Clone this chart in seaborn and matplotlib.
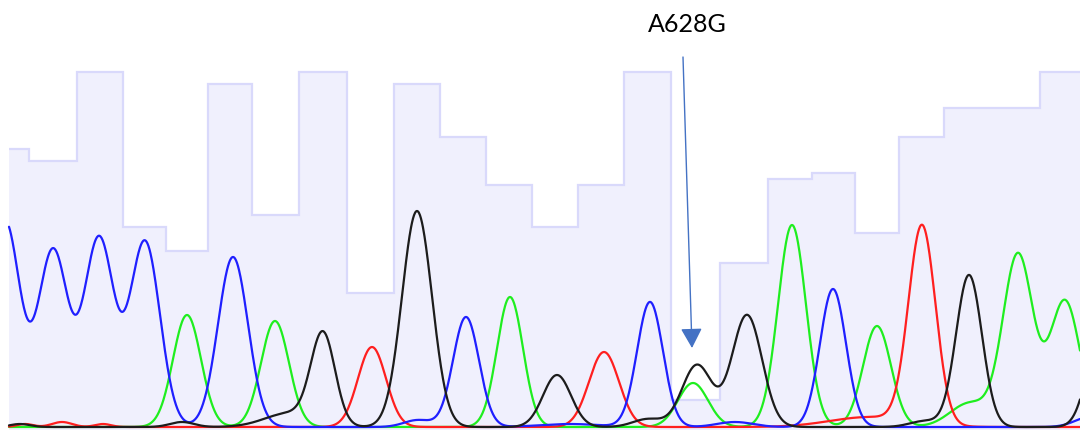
import numpy as np
import pandas as pd
import matplotlib
matplotlib.use("Agg")
import matplotlib.pyplot as plt
import seaborn as sns

# Base calls in the displayed window: scan position of each call and its quality value (QV)
call_pos = [5, 53, 100, 145, 187, 228, 276, 322, 372, 416, 464, 508,
            556, 600, 647, 695, 745, 791, 833, 877, 921, 967, 1017, 1063]
call_qv = [47, 45, 60, 34, 30, 58, 36, 60, 23, 58, 49, 41,
           34, 41, 60, 5, 28, 42, 43, 33, 49, 54, 54, 60]

# Dye peaks per channel: centre (scan), height (signal units), spread (scans)
A_pos = [187, 275, 510, 693, 792, 877, 970, 1018, 1065]
A_height = [112, 106, 130, 44, 202, 101, 24, 172, 126]
A_width = [14, 14, 13, 15, 14, 14, 20, 15, 15]

C_pos = [5, 53, 99, 145, 233, 418, 466, 570, 650, 735, 833, 1090]
C_height = [205, 176, 188, 185, 170, 7, 110, 3, 125, 5, 138, 10]
C_width = [15, 15, 15, 15, 15, 14, 13, 30, 13, 18, 13, 15]

G_pos = [20, 182, 290, 323, 417, 557, 648, 697, 747, 925, 969, 1100]
G_height = [3, 5, 14, 90, 216, 52, 8, 62, 112, 6, 152, 90]
G_width = [10, 12, 25, 12, 15, 14, 15, 15, 15, 15, 13, 13]

T_pos = [25, 62, 103, 372, 604, 870, 922]
T_height = [3, 5, 3, 80, 75, 10, 198]
T_width = [8, 10, 8, 14, 15, 40, 13.5]

signal_floor = 3
scan_start, scan_end = 9, 1080

mutation_label = "A628G"
mutation_scan = 692

channels = {
    "A": (A_pos, A_height, A_width),
    "T": (T_pos, T_height, T_width),
    "C": (C_pos, C_height, C_width),
    "G": (G_pos, G_height, G_width),
}
dye_colors = {"A": "#1fee1f", "T": "#ff1f1f", "C": "#1f1fff", "G": "#1c1c1c"}

# Build the four dye traces as sums of peak shapes
scans = np.arange(scan_start, scan_end + 0.5, 0.5)
frames = []
for dye, (pos, hgt, wid) in channels.items():
    sig = np.full_like(scans, signal_floor, dtype=float)
    for c, h, w in zip(pos, hgt, wid):
        sig += h * np.exp(-((scans - c) ** 2) / (2.0 * w ** 2))
    frames.append(pd.DataFrame({"scan": scans, "signal": sig, "dye": dye}))
traces = pd.concat(frames, ignore_index=True)

# Quality bar edges: halfway between neighbouring calls, clipped to the window
cp = np.asarray(call_pos, dtype=float)
edges = np.concatenate([[scan_start], (cp[:-1] + cp[1:]) / 2.0, [scan_end]])

sns.set_theme(style="white")
fig = plt.figure(figsize=(10.8, 4.3), dpi=100)
fig.patch.set_facecolor("white")

ax_q = fig.add_axes([0, 0, 1, 1])
ax_q.stairs(call_qv, edges, baseline=0, fill=True, color="#f0f0fd", lw=0, zorder=1)
ax_q.stairs(call_qv, edges, baseline=None, color="#d9d9fb", lw=1.6, zorder=2)
ax_q.set_xlim(0, 1080)
ax_q.set_ylim(0, 72)
ax_q.axis("off")

ax = ax_q.twinx()
sns.lineplot(data=traces, x="scan", y="signal", hue="dye",
             hue_order=["A", "T", "C", "G"], palette=dye_colors,
             estimator=None, sort=False, linewidth=1.6, legend=False, ax=ax)
ax.set_xlim(0, 1080)
ax.set_ylim(0, 430)
ax.axis("off")

# Mutation marker
ax.annotate("", xy=(mutation_scan, 82), xytext=(683, 373),
            arrowprops=dict(arrowstyle="-|>,head_length=0.61,head_width=0.33",
                            color="#4472c4", lw=1.0, shrinkA=0, shrinkB=0,
                            mutation_scale=20))
ax.text(687.5, 398, mutation_label, ha="center", va="baseline",
        fontsize=18, family="Lato", color="black")

fig.savefig("out.png", dpi=100, facecolor="white")
